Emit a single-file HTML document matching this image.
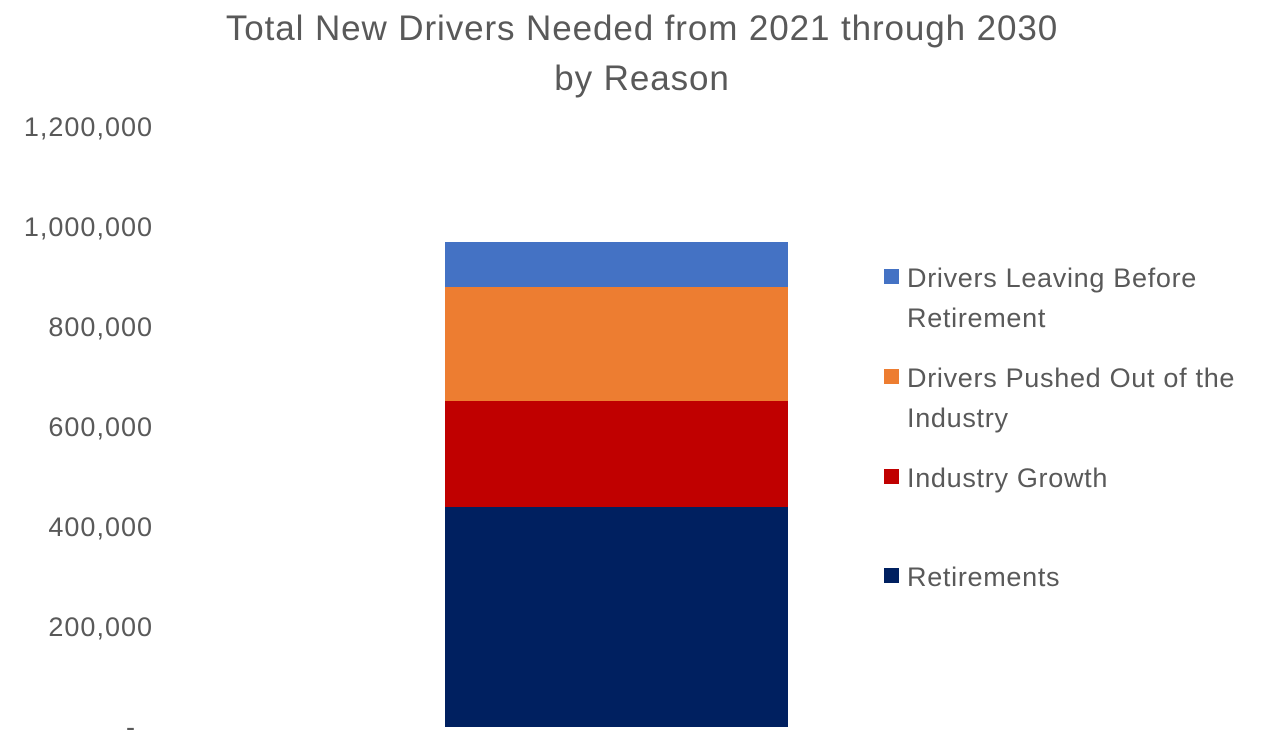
<!DOCTYPE html>
<html><head><meta charset="utf-8"><style>
body{margin:0;background:#fff;}
svg text{font-family:"Liberation Sans",sans-serif;fill:#595959;}
</style></head><body>
<svg width="1262" height="750">
<text x="642" y="40" text-anchor="middle" font-size="35" letter-spacing="0.9">Total New Drivers Needed from 2021 through 2030</text>
<text x="642" y="90" text-anchor="middle" font-size="35" letter-spacing="0.9">by Reason</text>
<g id="yaxis"></g>
<g id="bars"></g>
<g id="legend"></g>
</svg>
<script>
const series = ["Retirements","Industry Growth","Drivers Pushed Out of the Industry","Drivers Leaving Before Retirement"];
const values = [440000, 212000, 228000, 90000];
const colors = ["#002060","#c00000","#ed7d31","#4472c4"];
const ticks = [0,200000,400000,600000,800000,1000000,1200000];
const tickLabels = ["-","200,000","400,000","600,000","800,000","1,000,000","1,200,000"];
const legendLines = [["Retirements"],["Industry Growth"],["Drivers Pushed Out of the","Industry"],["Drivers Leaving Before","Retirement"]];
const NS="http://www.w3.org/2000/svg";
const y0=727, yTop=127, vmax=1200000;
function y(v){return y0-(v/vmax)*(y0-yTop);}
const ya=document.getElementById('yaxis');
ticks.forEach((t,i)=>{
  const el=document.createElementNS(NS,'text');
  
  
  el.setAttribute('x',t===0?136:153);el.setAttribute('y',y(t)+9);
  el.setAttribute('text-anchor','end');el.setAttribute('font-size','27');
  el.setAttribute('letter-spacing','1');
  el.textContent=tickLabels[i];ya.appendChild(el);
});
const bg=document.getElementById('bars');
let cum=0;
values.forEach((v,i)=>{
  const r=document.createElementNS(NS,'rect');
  
  
  r.setAttribute('x',445);r.setAttribute('width',343);
  r.setAttribute('y',y(cum+v));r.setAttribute('height',y(cum)-y(cum+v));
  r.setAttribute('fill',colors[i]);bg.appendChild(r);
  cum+=v;
});
const lg=document.getElementById('legend');
const ly=[577,478,378,278];
legendLines.forEach((lines,i)=>{
  const s=document.createElementNS(NS,'rect');
  
  
  s.setAttribute('x',884);s.setAttribute('y',ly[i]-9);s.setAttribute('width',15);s.setAttribute('height',15);
  s.setAttribute('fill',colors[i]);lg.appendChild(s);
  lines.forEach((ln,j)=>{
    const t=document.createElementNS(NS,'text');
    
    
    t.setAttribute('x',907);t.setAttribute('y',ly[i]+9+j*40);t.setAttribute('font-size','27');
    t.setAttribute('letter-spacing','0.7');
    t.textContent=ln;lg.appendChild(t);
  });
});
</script>
</body></html>
